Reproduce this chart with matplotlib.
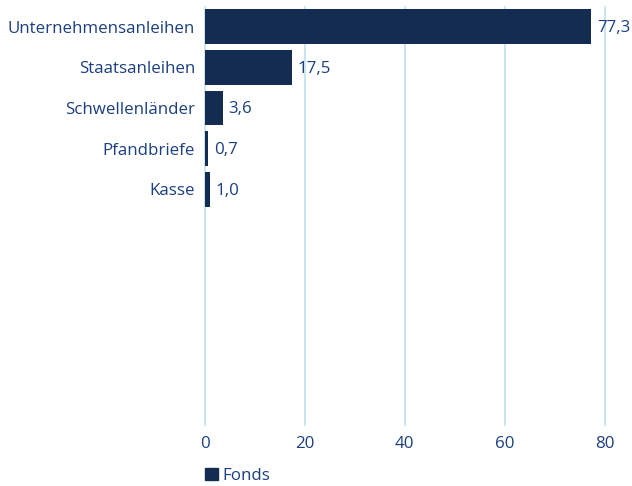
import matplotlib
matplotlib.use("Agg")
import matplotlib.pyplot as plt
from matplotlib.patches import Patch

categories = ["Unternehmensanleihen", "Staatsanleihen", "Schwellenländer", "Pfandbriefe", "Kasse"]
values = [77.3, 17.5, 3.6, 0.7, 1.0]
value_labels = ["77,3", "17,5", "3,6", "0,7", "1,0"]
series_name = "Fonds"
xticks = [0, 20, 40, 60, 80]

bar_color = "#142b52"
text_color = "#1c3f7f"
grid_color = "#bfe0ee"

plt.rcParams['font.family'] = ['Open Sans', 'DejaVu Sans']
fs = 12.2

fig = plt.figure(figsize=(6.32, 4.86), dpi=100)
ax = fig.add_axes([204.7/632, 1 - 425/486, 425/632, 418/486])

ypos = list(range(len(categories)))
ax.barh(ypos, values, height=0.85, color=bar_color, zorder=3)
for y, v, lab in zip(ypos, values, value_labels):
    ax.annotate(lab, (v, y), xytext=(4, -1), textcoords="offset points",
                va="center", ha="left", color=text_color, fontsize=fs)

ax.set_xlim(0, 85)
ax.set_ylim(9.79, -0.48)
ax.set_yticks(ypos)
ax.set_yticklabels(categories, color=text_color, fontsize=fs)
ax.set_xticks(xticks)
ax.set_xticklabels([str(t) for t in xticks], color=text_color, fontsize=fs)
ax.tick_params(axis="y", length=0, pad=7)
ax.tick_params(axis="x", length=0, pad=8)
for s in ax.spines.values():
    s.set_visible(False)
ax.grid(axis="x", color=grid_color, linewidth=1.2, zorder=0)
ax.set_axisbelow(True)
for gl in ax.get_xgridlines():
    gl.set_clip_on(False)

leg = fig.legend(handles=[Patch(color=bar_color, label=series_name)],
                 loc="center left", bbox_to_anchor=(205/632, 1 - 476/486),
                 frameon=False, fontsize=fs, handlelength=0.75, handleheight=0.75,
                 handletextpad=0.3, borderaxespad=0, borderpad=0)
for t in leg.get_texts():
    t.set_color(text_color)

fig.savefig("out.png", dpi=100)
